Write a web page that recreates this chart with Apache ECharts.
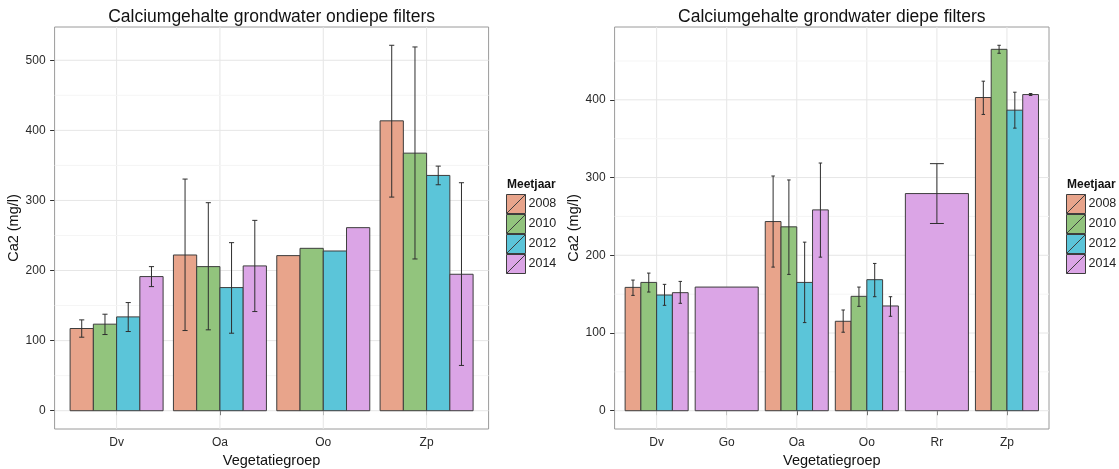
<!DOCTYPE html>
<html>
<head>
<meta charset="utf-8">
<script src="https://cdn.jsdelivr.net/npm/echarts@6/dist/echarts.min.js"></script>
<style>
  html, body { margin: 0; background: #fff; }
  #chart { width: 1119px; height: 469px; }
</style>
</head>
<body>
<div id="chart"></div>
<script>
const years = ['2008', '2010', '2012', '2014'];
const colors = ['#E8A48B', '#92C47D', '#5BC5D9', '#DBA5E6'];

// ondiepe filters
const shallowCats = ['Dv', 'Oa', 'Oo', 'Zp'];
const shallow2008 = [117.3, 222.2, 221.3, 413.6];
const shallow2010 = [123.5, 205.6, 231.7, 367.5];
const shallow2012 = [133.9, 175.7, 227.9, 335.7];
const shallow2014 = [191.4, 206.6, 261.2, 194.7];
const shallowLow2008 = [104.9, 114.4, null, 304.8];
const shallowLow2010 = [108.7, 115.4, null, 216.5];
const shallowLow2012 = [113.0, 110.6, null, 322.4];
const shallowLow2014 = [177.1, 141.5, null, 64.6];
const shallowHigh2008 = [129.6, 330.5, null, 521.4];
const shallowHigh2010 = [137.7, 296.8, null, 519.0];
const shallowHigh2012 = [154.3, 239.8, null, 349.0];
const shallowHigh2014 = [205.6, 271.6, null, 325.3];
const shallowTicks = [0, 100, 200, 300, 400, 500];

// diepe filters
const deepCats = ['Dv', 'Go', 'Oa', 'Oo', 'Rr', 'Zp'];
const deep2008 = [158.7, null, 243.4, 115.1, null, 403.0];
const deep2010 = [165.1, null, 236.6, 147.2, null, 465.0];
const deep2012 = [148.9, null, 165.1, 168.6, null, 386.7];
const deep2014 = [151.9, 159.1, 258.4, 134.8, 279.4, 406.8];
const deepLow2008 = [148.4, null, 184.8, 101.0, null, 381.2];
const deepLow2010 = [152.7, null, 175.4, 134.3, null, 459.9];
const deepLow2012 = [135.6, null, 113.4, 146.7, null, 363.6];
const deepLow2014 = [138.2, null, 197.6, 121.5, 240.9, 405.6];
const deepHigh2008 = [168.1, null, 302.0, 129.6, null, 424.0];
const deepHigh2010 = [177.1, null, 296.9, 159.1, null, 470.2];
const deepHigh2012 = [162.6, null, 216.9, 189.5, null, 409.8];
const deepHigh2014 = [166.4, null, 318.7, 146.7, 317.9, 408.1];
const deepTicks = [0, 100, 200, 300, 400];

const FONT = '"Liberation Sans", Arial, sans-serif';

const panels = [
  {
    title: 'Calciumgehalte grondwater ondiepe filters',
    cats: shallowCats,
    mean: [shallow2008, shallow2010, shallow2012, shallow2014],
    low: [shallowLow2008, shallowLow2010, shallowLow2012, shallowLow2014],
    high: [shallowHigh2008, shallowHigh2010, shallowHigh2012, shallowHigh2014],
    ticks: shallowTicks,
    grid: { left: 54.6, top: 27, width: 434, height: 402 },
    legendX: 506
  },
  {
    title: 'Calciumgehalte grondwater diepe filters',
    cats: deepCats,
    mean: [deep2008, deep2010, deep2012, deep2014],
    low: [deepLow2008, deepLow2010, deepLow2012, deepLow2014],
    high: [deepHigh2008, deepHigh2010, deepHigh2012, deepHigh2014],
    ticks: deepTicks,
    grid: { left: 614.6, top: 27, width: 434.4, height: 402 },
    legendX: 1066
  }
];

// ggplot-like 5% expansion of the data range
panels.forEach((p) => {
  const all = p.mean.concat(p.high).flat().filter((v) => v != null);
  const top = Math.max(...all);
  p.yMin = -0.05 * top;
  p.yMax = 1.05 * top;
  p.xMin = 0.4;
  p.xMax = p.cats.length + 0.6;
  // gridlines: vertical at categories, major + minor horizontal
  p.lines = [];
  p.cats.forEach((c, i) => p.lines.push({ kind: 'v', x: i + 1, y: 0 }));
  p.ticks.forEach((t, i) => {
    p.lines.push({ kind: 'major', x: 1, y: t });
    if (t + 50 < p.yMax) p.lines.push({ kind: 'minor', x: 1, y: t + 50 });
    if (i === 0 && t - 50 > p.yMin) p.lines.push({ kind: 'minor', x: 1, y: t - 50 });
  });
});

const legendIcon = 'path://M0,0L20,0L20,20L0,20Z M0,20L20,0';

const grid = [];
const xAxis = [];
const yAxis = [];
const series = [];
const legend = [];
const graphic = [];

panels.forEach((p, pi) => {
  grid.push(Object.assign({
    show: true,
    borderColor: '#9a9a9a',
    borderWidth: 1,
    backgroundColor: '#fff',
    containLabel: false,
    outerBoundsMode: 'none'
  }, p.grid));

  xAxis.push({
    type: 'value',
    gridIndex: pi,
    min: p.xMin,
    max: p.xMax,
    name: 'Vegetatiegroep',
    nameLocation: 'middle',
    nameGap: 20,
    nameTextStyle: { fontFamily: FONT, fontSize: 14.5, color: '#111' },
    axisLine: { show: false },
    splitLine: { show: false },
    axisTick: { show: true, length: 4.5, customValues: p.cats.map((c, i) => i + 1), lineStyle: { color: '#333' } },
    axisLabel: {
      customValues: p.cats.map((c, i) => i + 1),
      formatter: (v) => p.cats[Math.round(v) - 1] || '',
      margin: 8,
      fontFamily: FONT, fontSize: 12, color: '#2a2a2a'
    }
  });

  yAxis.push({
    type: 'value',
    gridIndex: pi,
    min: p.yMin,
    max: p.yMax,
    name: 'Ca2 (mg/l)',
    nameLocation: 'middle',
    nameGap: 25,
    nameRotate: 90,
    nameTextStyle: { fontFamily: FONT, fontSize: 14.5, color: '#111' },
    axisLine: { show: false },
    splitLine: { show: false },
    axisTick: { show: true, length: 4.5, customValues: p.ticks, lineStyle: { color: '#333' } },
    axisLabel: { customValues: p.ticks, margin: 9, fontFamily: FONT, fontSize: 12, color: '#2a2a2a' }
  });

  // background gridlines
  series.push({
    type: 'custom',
    name: 'grid' + pi,
    xAxisIndex: pi,
    yAxisIndex: pi,
    silent: true,
    z: 1,
    data: p.lines.map((l) => [l.x, l.y]),
    renderItem: (params, api) => {
      const cs = params.coordSys;
      const l = p.lines[params.dataIndex];
      if (l.kind === 'v') {
        const pt = api.coord([l.x, p.yMin]);
        return { type: 'line', shape: { x1: pt[0], y1: cs.y, x2: pt[0], y2: cs.y + cs.height }, style: { stroke: '#e6e6e6', lineWidth: 1 } };
      }
      const pt = api.coord([p.xMin, l.y]);
      return {
        type: 'line',
        shape: { x1: cs.x, y1: pt[1], x2: cs.x + cs.width, y2: pt[1] },
        style: { stroke: l.kind === 'major' ? '#e6e6e6' : '#f5f5f5', lineWidth: 1 }
      };
    }
  });

  years.forEach((yr, k) => {
    const data = [];
    p.cats.forEach((c, ci) => {
      if (p.mean[k][ci] != null) data.push([ci + 1, p.mean[k][ci]]);
    });
    series.push({
      type: 'custom',
      name: yr,
      xAxisIndex: pi,
      yAxisIndex: pi,
      z: 2,
      itemStyle: { color: colors[k] },
      data: data,
      renderItem: (params, api) => {
        const ci = api.value(0) - 1;
        const present = [];
        p.mean.forEach((m, j) => { if (m[ci] != null) present.push(j); });
        const w = 0.9 / present.length;
        const x0 = ci + 1 - 0.45 + present.indexOf(k) * w;
        const a = api.coord([x0, api.value(1)]);
        const b = api.coord([x0 + w, 0]);
        const children = [{
          type: 'rect',
          shape: { x: a[0], y: a[1], width: b[0] - a[0], height: b[1] - a[1] },
          style: { fill: colors[k], stroke: '#3d3d3d', lineWidth: 1 }
        }];
        const lo = p.low[k][ci];
        const hi = p.high[k][ci];
        if (lo != null && hi != null) {
          const cx = (a[0] + b[0]) / 2;
          const cap = 0.11 * (b[0] - a[0]);
          const yLo = api.coord([x0, lo])[1];
          const yHi = api.coord([x0, hi])[1];
          const st = { stroke: '#2e2e2e', lineWidth: 1 };
          children.push({ type: 'line', shape: { x1: cx, y1: yLo, x2: cx, y2: yHi }, style: st });
          children.push({ type: 'line', shape: { x1: cx - cap, y1: yLo, x2: cx + cap, y2: yLo }, style: st });
          children.push({ type: 'line', shape: { x1: cx - cap, y1: yHi, x2: cx + cap, y2: yHi }, style: st });
        }
        return { type: 'group', children: children };
      }
    });
  });

  legend.push({
    data: years,
    orient: 'vertical',
    left: p.legendX,
    top: 194,
    padding: 0,
    itemWidth: 19,
    itemHeight: 19.5,
    itemGap: 0,
    icon: legendIcon,
    selectedMode: false,
    itemStyle: { borderColor: '#3d3d3d', borderWidth: 1 },
    textStyle: { fontFamily: FONT, fontSize: 12.5, color: '#222', padding: [0, 0, 0, -2] }
  });

  graphic.push({
    type: 'text',
    x: p.grid.left + p.grid.width / 2,
    y: 17,
    style: { text: p.title, font: '17.5px ' + FONT, fill: '#111', textAlign: 'center', textVerticalAlign: 'middle' }
  });
  graphic.push({
    type: 'text',
    x: p.legendX + 1,
    y: 185,
    style: { text: 'Meetjaar', font: 'bold 12px ' + FONT, fill: '#111', textAlign: 'left', textVerticalAlign: 'middle' }
  });
});

const myChart = echarts.init(document.getElementById('chart'));
myChart.setOption({
  animation: false,
  backgroundColor: '#fff',
  grid: grid,
  xAxis: xAxis,
  yAxis: yAxis,
  legend: legend,
  graphic: graphic,
  series: series
});
</script>
</body>
</html>
